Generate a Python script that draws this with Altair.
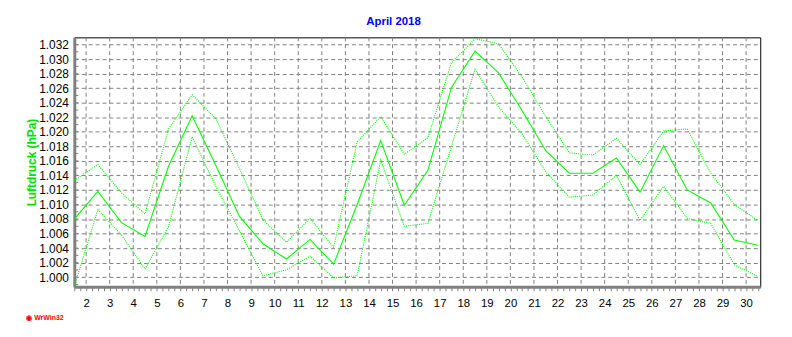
import altair as alt
import pandas as pd

# ---- data ----
days = list(range(1, 31))
p_max = [1.0133, 1.0155, 1.0116, 1.0087, 1.0204, 1.0251, 1.0218, 1.0150, 1.0079, 1.0048,
         1.0081, 1.0041, 1.0186, 1.0221, 1.0169, 1.0192, 1.0295, 1.0328, 1.0321, 1.0275,
         1.0221, 1.0171, 1.0168, 1.0191, 1.0155, 1.0201, 1.0204, 1.0143, 1.0100, 1.0078]
p_mean = [1.0080, 1.0118, 1.0075, 1.0056, 1.0153, 1.0222, 1.0154, 1.0084, 1.0046, 1.0025,
          1.0052, 1.0018, 1.0100, 1.0188, 1.0099, 1.0147, 1.0261, 1.0311, 1.0281, 1.0229,
          1.0174, 1.0143, 1.0143, 1.0164, 1.0117, 1.0181, 1.0120, 1.0102, 1.0051, 1.0044]
p_min = [0.9987, 1.0093, 1.0058, 1.0011, 1.0070, 1.0193, 1.0125, 1.0064, 1.0002, 1.0010,
         1.0029, 0.9999, 1.0002, 1.0161, 1.0070, 1.0074, 1.0180, 1.0286, 1.0234, 1.0197,
         1.0145, 1.0110, 1.0113, 1.0140, 1.0078, 1.0125, 1.0081, 1.0074, 1.0017, 1.0001]

label_days = list(range(2, 31))
x_tick_values = [1.5 + 0.25 * i for i in range(117)]
y_labels = [1.000, 1.002, 1.004, 1.006, 1.008, 1.010, 1.012, 1.014, 1.016,
            1.018, 1.020, 1.022, 1.024, 1.026, 1.028, 1.030, 1.032]
y_minor = [round(0.999 + 0.001 * i, 3) for i in range(34)]

title_text = "April 2018"
y_title = "Luftdruck (hPa)"
footer_text = "◉ WrWin32"

df = pd.DataFrame({
    "day": days * 3,
    "value": p_max + p_mean + p_min,
    "series": ["max"] * 30 + ["mean"] * 30 + ["min"] * 30,
})
grid_df = pd.DataFrame({"gx": label_days})
minor_df = pd.DataFrame({"my": y_minor})

W, H = 693, 252
GREEN = "#00FF00"
GRAY = "#808080"
FONT = "Liberation Sans"

xscale = alt.Scale(domain=[1.5, 30.6], nice=False, zero=False)
yscale = alt.Scale(domain=[0.99868, 1.03299], nice=False, zero=False)

x_axis = alt.Axis(
    values=x_tick_values,
    labelExpr="datum.value % 1 == 0 ? format(datum.value, 'd') : ''",
    labelOverlap=False, labelFlush=False,
    grid=False, domainColor=GRAY, domainWidth=3,
    tickColor=GRAY, tickSize=4, tickWidth=1,
    labelFontSize=11.5, labelColor="black", labelPadding=7, labelFont=FONT,
    title=footer_text, titleColor="#FF0000", titleFontSize=7, titleFontWeight="bold",
    titleFont=FONT, titleX=-49, titleY=31, titleAlign="left", titleBaseline="middle",
    titleAnchor="start",
)
y_axis = alt.Axis(
    values=y_labels, format=".3f", ticks=False,
    grid=True, gridColor=GRAY, gridDash=[4, 3], gridWidth=1,
    domainColor=GRAY, domainWidth=3,
    labelFontSize=12, labelPadding=6, labelColor="black", labelFont=FONT,
    title=y_title, titleColor="#00E000", titleFontSize=12, titleFontWeight="bold",
    titleFont=FONT, titleX=-43, titleY=H / 2, titleAngle=270, titleAlign="center",
    titleBaseline="middle",
)

X = alt.X("xpos:Q", scale=xscale, axis=x_axis)
Y = alt.Y("value:Q", scale=yscale, axis=y_axis)

base = alt.Chart(df).transform_calculate(xpos="datum.day + 0.5")

vgrid = alt.Chart(grid_df).mark_rule(color=GRAY, strokeDash=[4, 3], strokeWidth=1).encode(
    x=alt.X("gx:Q", scale=xscale, axis=x_axis)
)

yminor = alt.Chart(minor_df).mark_rule(color=GRAY, strokeWidth=1).encode(
    y=alt.Y("my:Q", scale=yscale, axis=y_axis),
    x=alt.value(0), x2=alt.value(4),
)

dotted = base.transform_filter("datum.series != 'mean'").mark_line(
    color=GREEN, strokeWidth=1.1, strokeDash=[1.1, 1.1], clip=True
).encode(x=X, y=Y, detail="series:N")

solid = base.transform_filter("datum.series == 'mean'").mark_line(
    color=GREEN, strokeWidth=1.1, clip=True
).encode(x=X, y=Y)

chart = alt.layer(vgrid, yminor, dotted, solid).properties(
    width=W, height=H,
    padding={"left": 67, "top": 28, "right": 24, "bottom": 41},
    autosize=alt.AutoSizeParams(type="none"),
    background="white",
    title=alt.TitleParams(
        title_text, color="#0000FF", fontSize=11.5, fontWeight="bold", font=FONT,
        anchor="middle", frame="group", dx=-24, dy=11, offset=9, baseline="bottom",
    ),
).configure_view(stroke="black", strokeWidth=1)

chart.save("out.html", embed_options={"renderer": "svg", "actions": False})
